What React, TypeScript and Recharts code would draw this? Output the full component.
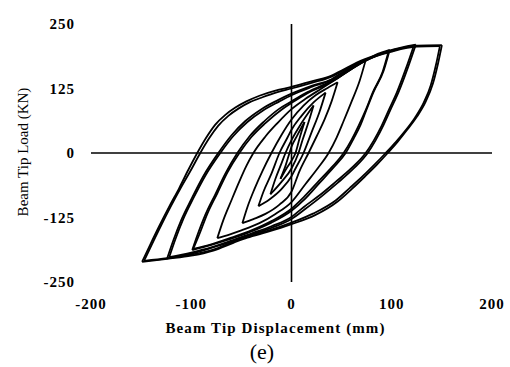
import React from 'react';
import { LineChart, Line, XAxis, YAxis, ReferenceLine } from 'recharts';

// displacement (mm), load (kN) — one full cycle per array: unload from + peak, reload back
const loop12: [number, number][] = [
  [13, 60], [8, 28], [4, 0], [0, -15], [-5, -30], [-11, -50],
  [-6, -25], [-2, 0], [0, 12], [6, 35], [13, 60],
];
const loop22: [number, number][] = [
  [22, 92], [17, 60], [11, 25], [7, 0], [0, -30], [-10, -56], [-21, -80],
  [-16, -50], [-10, -20], [-6, 0], [0, 25], [10, 58], [22, 92],
];
const loop34: [number, number][] = [
  [34, 117], [28, 80], [20, 40], [12, 0], [4, -30], [0, -45], [-10, -70], [-22, -90], [-33, -103],
  [-28, -75], [-20, -40], [-12, 0], [-4, 30], [0, 45], [10, 72], [22, 98], [34, 117],
];
const loop48: [number, number][] = [
  [46, 137], [40, 100], [33, 65], [25, 32], [17, 0], [8, -35], [0, -75], [-12, -100], [-26, -118], [-38, -128], [-49, -136],
  [-44, -105], [-37, -70], [-29, -35], [-20, 0], [-10, 35], [0, 65], [12, 92], [24, 112], [36, 126], [46, 137],
];
const loop75: [number, number][] = [
  [74, 180], [68, 140], [60, 100], [52, 62], [45, 30], [37, 0], [26, -30], [14, -60], [0, -95], [-16, -118],
  [-32, -136], [-50, -150], [-62, -158], [-74, -165],
  [-68, -130], [-60, -92], [-52, -55], [-45, -25], [-38, 0], [-26, 32], [-14, 58], [0, 85], [14, 105],
  [30, 125], [46, 145], [60, 163], [74, 180],
];
const loop100: [number, number][] = [
  [98, 200], [92, 160], [82, 119], [75, 85], [69, 55], [62, 28], [54, 0], [42, -28], [28, -58], [14, -88],
  [0, -112], [-20, -135], [-40, -152], [-60, -166], [-80, -178], [-99, -188],
  [-94, -160], [-86, -120], [-76, -80], [-66, -40], [-54, 0], [-42, 32], [-28, 60], [-12, 86], [0, 100],
  [16, 118], [34, 134], [46, 146], [60, 164], [74, 180], [86, 192], [98, 200],
];
const loop100b: [number, number][] = [
  [97, 198], [91, 158], [81, 117], [74, 83], [67, 53], [60, 26], [52, 0], [40, -28], [26, -57], [12, -86],
  [0, -108], [-20, -132], [-40, -150], [-60, -164], [-80, -177], [-98, -186],
  [-92, -158], [-84, -118], [-74, -78], [-64, -38], [-52, 0], [-40, 31], [-26, 58], [-10, 84], [0, 97],
  [16, 116], [34, 132], [46, 145], [60, 163], [74, 179], [86, 190], [97, 198],
];
const loop125: [number, number][] = [
  [124, 210], [116, 165], [107, 119], [99, 85], [92, 55], [84, 25], [76, 0], [62, -30], [46, -58], [30, -84],
  [14, -108], [0, -128], [-20, -145], [-40, -158], [-60, -172], [-80, -184], [-100, -195], [-124, -204],
  [-118, -170], [-110, -130], [-100, -90], [-88, -45], [-73, 0], [-60, 34], [-46, 62], [-30, 85], [-14, 102],
  [0, 115], [20, 130], [40, 143], [50, 155], [60, 166], [74, 180], [97, 198], [124, 210],
];
const loop125b: [number, number][] = [
  [122, 208], [114, 163], [105, 117], [97, 83], [90, 53], [82, 24], [74, 0], [60, -29], [44, -56], [28, -82],
  [12, -105], [0, -124], [-20, -142], [-40, -156], [-60, -170], [-80, -183], [-100, -193], [-122, -202],
  [-116, -168], [-108, -128], [-98, -88], [-86, -44], [-71, 0], [-58, 33], [-44, 60], [-28, 83], [-12, 100],
  [0, 112], [20, 128], [40, 142], [50, 154], [60, 165], [74, 179], [97, 197], [122, 208],
];
const loop150: [number, number][] = [
  [150, 209], [146, 172], [141, 134], [134, 100], [125, 70], [115, 44], [106, 22], [96, 0], [85, -23],
  [73, -46], [60, -70], [46, -94], [24, -120], [0, -138], [-24, -153], [-44, -164], [-58, -174],
  [-78, -189], [-100, -199], [-124, -205], [-149, -211],
  [-141, -178], [-132, -142], [-122, -104], [-112, -68], [-103, -33], [-94, 0], [-85, 30], [-76, 55],
  [-66, 74], [-56, 88], [-45, 100], [-32, 111], [-16, 121], [0, 128], [20, 139], [40, 150], [50, 160],
  [72, 181], [99, 197], [125, 208], [150, 209],
];
const loop150b: [number, number][] = [
  [148, 207], [144, 170], [139, 132], [132, 98], [123, 68], [113, 42], [104, 21], [94, 0], [83, -22],
  [71, -45], [58, -68], [44, -92], [22, -117], [0, -135], [-24, -151], [-44, -162], [-58, -172],
  [-78, -187], [-100, -197], [-124, -204], [-147, -209],
  [-139, -176], [-130, -140], [-120, -102], [-110, -66], [-100, -32], [-91, 0], [-82, 29], [-73, 53],
  [-63, 72], [-53, 86], [-42, 98], [-29, 108], [-14, 118], [0, 125], [20, 136], [40, 148], [50, 158],
  [72, 179], [99, 196], [125, 206], [148, 207],
];

const loops = [loop12, loop22, loop34, loop48, loop75, loop100, loop100b, loop125, loop125b, loop150, loop150b];

const xTicks = [-200, -100, 0, 100, 200];
const yTicks = [-250, -125, 0, 125, 250];

const toPts = (d: [number, number][]) =>
  d.map(([x, y]) => ({ x, y })).sort((a, b) => a.x - b.x);

// split each cycle at its negative peak: unloading and reloading branches are drawn separately
const branches = loops.flatMap((d) => {
  let k = 0;
  d.forEach((p, i) => {
    if (p[0] < d[k][0]) k = i;
  });
  return [toPts(d.slice(0, k + 1)), toPts(d.slice(k))];
});

const tickStyle = {
  fontFamily: '"Liberation Serif", serif',
  fontWeight: 700,
  fontSize: 15,
  fill: '#000',
  letterSpacing: 1,
};

const XTitle = (props: any) => {
  const vb = props.viewBox;
  return (
    <g>
      <text
        x={vb.x + vb.width / 2 - 16}
        y={vb.y + 50.5}
        textAnchor="middle"
        fontFamily='"Liberation Serif", serif'
        fontWeight={700}
        fontSize={15}
        letterSpacing={1.1}
        fill="#000"
      >
        Beam Tip Displacement (mm)
      </text>
      <text x={262} y={359} textAnchor="middle" fontFamily='"Liberation Serif", serif' fontSize={22} fill="#000">
        (e)
      </text>
    </g>
  );
};

const YTitle = (props: any) => {
  const vb = props.viewBox;
  const cy = vb.y + vb.height / 2 - 1;
  return (
    <text
      x={27.5}
      y={cy}
      transform={`rotate(-90, 27.5, ${cy})`}
      textAnchor="middle"
      fontFamily='"Liberation Serif", serif'
      fontSize={15}
      fill="#000"
    >
      Beam Tip Load (KN)
    </text>
  );
};

export default function App() {
  return (
    <div style={{ position: 'absolute', left: 0, top: 0, width: 510, height: 367, background: '#fff' }}>
      <LineChart width={510} height={367} margin={{ top: 24, right: 18, bottom: 0, left: 0 }}>
        <XAxis
          type="number"
          dataKey="x"
          domain={[-200, 200]}
          ticks={xTicks}
          interval={0}
          axisLine={false}
          tickLine={false}
          tickMargin={10}
          height={85}
          tick={tickStyle}
          label={{ content: XTitle }}
        />
        <YAxis
          type="number"
          dataKey="y"
          domain={[-250, 250]}
          ticks={yTicks}
          interval={0}
          axisLine={false}
          tickLine={false}
          tickMargin={10}
          width={91}
          tick={tickStyle}
          label={{ content: YTitle }}
        />
        <ReferenceLine y={0} stroke="#000" strokeWidth={1.6} />
        <ReferenceLine x={0} stroke="#000" strokeWidth={1.6} />
        {branches.map((d, i) => (
          <Line
            key={i}
            data={d}
            dataKey="y"
            type="monotone"
            dot={false}
            stroke="#000"
            strokeWidth={1.8}
            isAnimationActive={false}
          />
        ))}
      </LineChart>
    </div>
  );
}
